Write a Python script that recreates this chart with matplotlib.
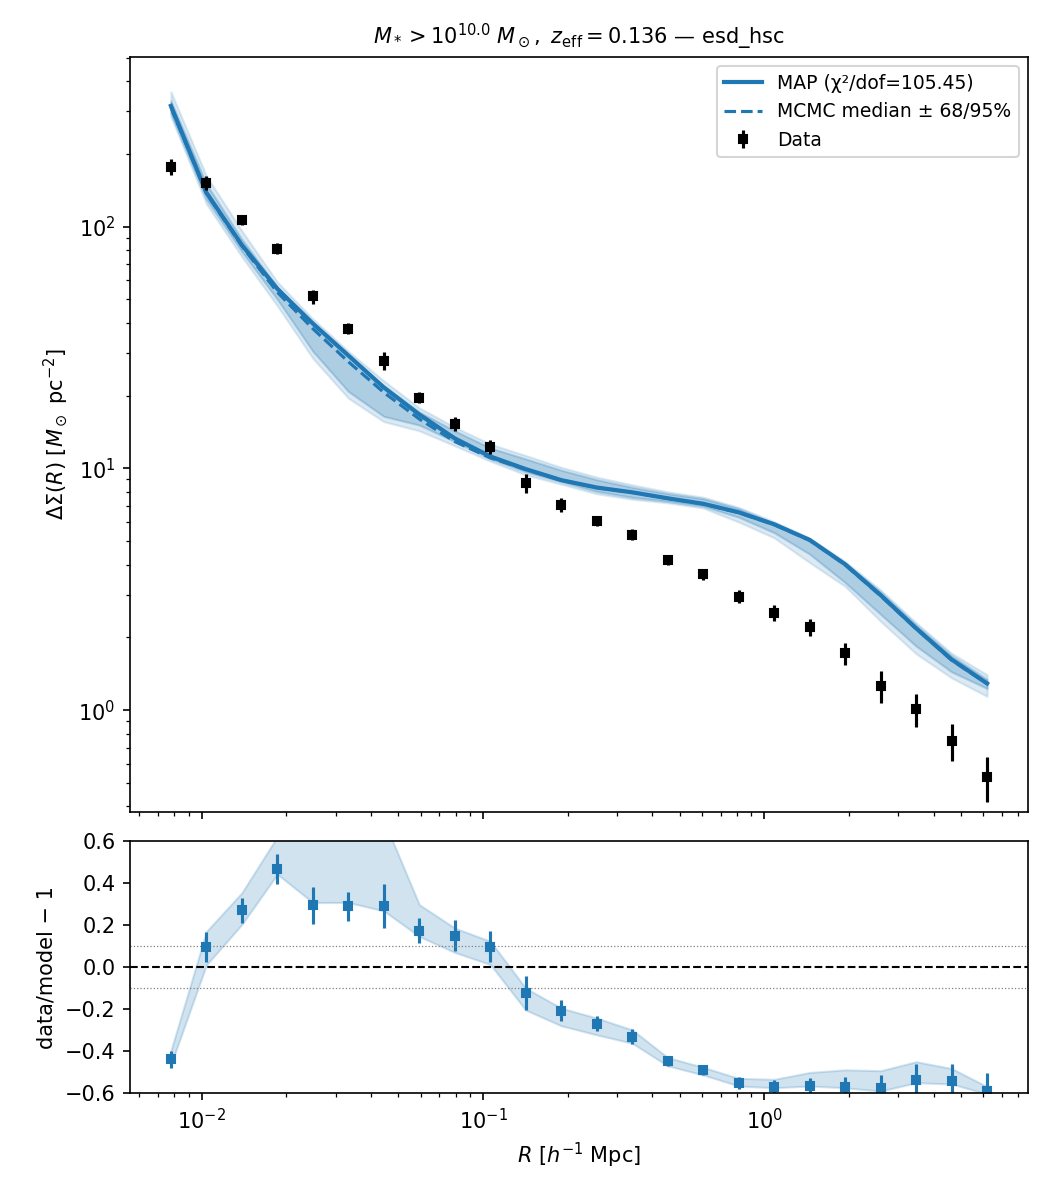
import numpy as np
import matplotlib
matplotlib.use("Agg")
import matplotlib.pyplot as plt

# ---- data ----
R = [0.00777, 0.01039, 0.01389, 0.01857, 0.02484, 0.03321, 0.04440, 0.05937,
     0.07939, 0.1062, 0.1419, 0.1898, 0.2538, 0.3393, 0.4537, 0.6066,
     0.8111, 1.0845, 1.450, 1.939, 2.593, 3.467, 4.635, 6.198]

ds_data = [177, 151.6, 106.6, 81.1, 51.4, 37.8, 27.9, 19.6, 15.3, 12.3, 8.7, 7.08,
           6.08, 5.32, 4.16, 3.64, 2.95, 2.52, 2.20, 1.72, 1.26, 1.01, 0.744, 0.529]
ds_err = [13, 10, 5, 4, 3.5, 2.0, 2.3, 1.0, 1.0, 0.85, 0.8, 0.45,
          0.3, 0.28, 0.17, 0.18, 0.18, 0.19, 0.18, 0.18, 0.19, 0.16, 0.13, 0.11]

ds_map = [315.5, 138.2, 83.9, 55.3, 39.7, 29.3, 21.6, 16.7, 13.3, 11.2, 9.93, 8.94,
          8.33, 7.96, 7.52, 7.14, 6.58, 5.87, 5.06, 4.01, 2.99, 2.18, 1.62, 1.29]
ds_med = [312, 137, 83, 53.5, 37.8, 27.6, 20.6, 16.0, 12.9, 11.05, 9.9, 8.93,
          8.32, 7.95, 7.51, 7.12, 6.56, 5.85, 5.04, 3.99, 2.97, 2.17, 1.61, 1.285]
lo68 = [294, 129.6, 78.7, 50, 30.5, 20.8, 16.4, 15.1, 12.9, 10.95, 9.67, 8.80,
        8.03, 7.59, 7.31, 6.97, 6.28, 5.42, 4.42, 3.37, 2.49, 1.84, 1.44, 1.23]
hi68 = [331, 150, 88.6, 56.2, 39.3, 28.9, 22.0, 17.1, 14.3, 12.15, 10.94, 9.83,
        8.98, 8.35, 7.86, 7.49, 6.81, 5.93, 5.08, 4.05, 3.08, 2.25, 1.68, 1.34]
lo95 = [285, 124, 75, 47, 28.5, 19.5, 15.6, 14.3, 12.4, 10.7, 9.4, 8.6,
        7.85, 7.45, 7.2, 6.85, 6.0, 5.16, 4.08, 3.25, 2.33, 1.71, 1.36, 1.14]
hi95 = [361, 162, 96, 59, 41.5, 30.5, 23, 17.8, 14.8, 12.6, 11.3, 10.1,
        9.2, 8.55, 8.0, 7.6, 6.9, 6.02, 5.15, 4.12, 3.14, 2.3, 1.72, 1.40]

chi2_dof = 105.45
title = r"$M_* > 10^{10.0}\ M_\odot,\ z_{\rm eff} = 0.136$ — esd_hsc"

# ---- derived ----
x = np.array(R)
d = np.array(ds_data)
e = np.array(ds_err)
m = np.array(ds_map)
resid = d / m - 1
resid_err = e / m
band_lo = d / np.array(hi68) - 1
band_hi = d / np.array(lo68) - 1

C0 = "#1f77b4"

fig = plt.figure(figsize=(7, 8), dpi=150)
gs = fig.add_gridspec(2, 1, height_ratios=[3, 1], left=0.1238, right=0.979,
                      top=0.9525, bottom=0.0892, hspace=0.058)
ax = fig.add_subplot(gs[0])
axr = fig.add_subplot(gs[1], sharex=ax)

ax.fill_between(x, lo95, hi95, color=C0, alpha=0.15)
ax.fill_between(x, lo68, hi68, color=C0, alpha=0.25)
h_med, = ax.plot(x, ds_med, color=C0, lw=1.5, ls="--", label="MCMC median ± 68/95%")
h_map, = ax.plot(x, ds_map, color=C0, lw=2, label=f"MAP (χ²/dof={chi2_dof:.2f})")
h_dat = ax.errorbar(x, d, yerr=e, fmt="s", color="k", ms=4, label="Data")
ax.set_xscale("log")
ax.set_yscale("log")
ax.set_xlim(0.005559, 8.657)
ax.set_ylim(0.379, 502.4)
ax.set_ylabel(r"$\Delta\Sigma(R)$ [$M_\odot$ pc$^{-2}$]")
ax.set_title(title, fontsize=10)
ax.legend(handles=[h_map, h_med, h_dat], loc="upper right", fontsize=9)
plt.setp(ax.get_xticklabels(), visible=False)

axr.fill_between(x, band_lo, band_hi, color=C0, alpha=0.2)
axr.errorbar(x, resid, yerr=resid_err, fmt="s", color=C0, ms=4)
axr.axhline(0, color="k", ls="--", lw=1)
axr.axhline(0.1, color="gray", ls=":", lw=0.6)
axr.axhline(-0.1, color="gray", ls=":", lw=0.6)
axr.set_ylim(-0.6, 0.6)
axr.set_xlabel(r"$R$ [$h^{-1}$ Mpc]")
axr.set_ylabel("data/model − 1")

fig.savefig("out.png", dpi=150)
